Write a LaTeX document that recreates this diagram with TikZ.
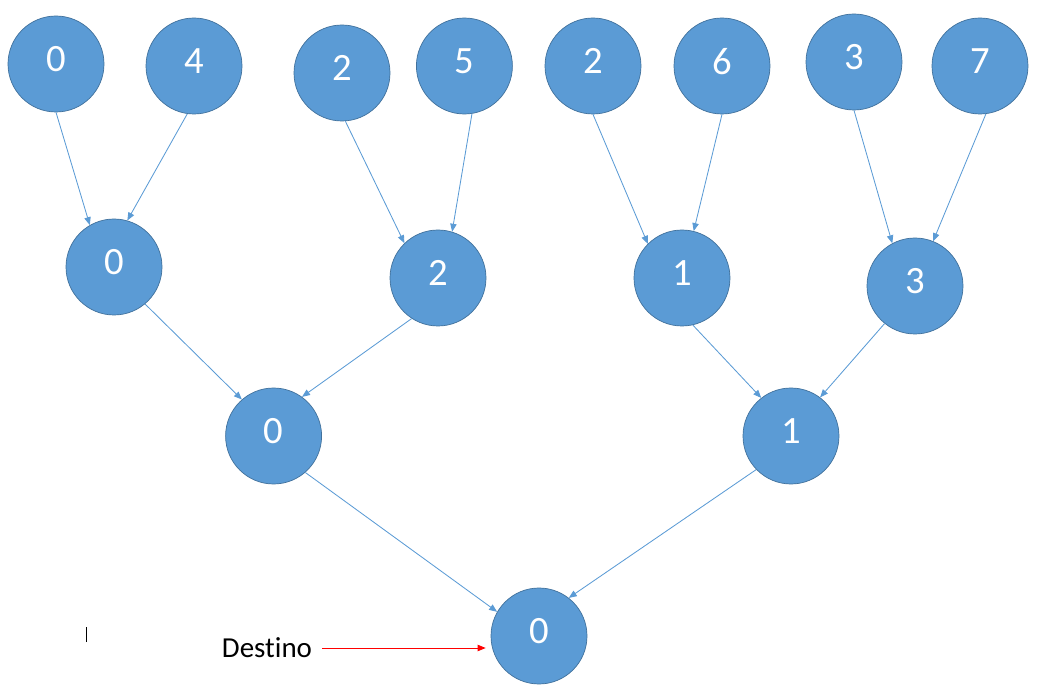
\documentclass[tikz,border=0pt]{standalone}
\usepackage{fontspec}
\setmainfont{Carlito}[Ligatures=NoCommon]
\usetikzlibrary{arrows.meta}

\definecolor{nodeblue}{HTML}{5B9BD5}
\definecolor{nodeedge}{HTML}{41719C}

\begin{document}
\begin{tikzpicture}[
		vertex/.style={circle, fill=nodeblue, draw=nodeedge, line width=0.5pt, minimum size=2.4cm, inner sep=0pt, text=white, font=\fontsize{27.5}{32}\selectfont, text depth=0.25cm},
		edge/.style={nodeblue, line width=0.6pt, -{Triangle[length=0.2cm, width=0.16cm]}},
		pointer/.style={red, line width=0.6pt, -{Triangle[length=0.2cm, width=0.16cm]}, shorten <=0.25cm, shorten >=0.125cm}
	]
	\path[use as bounding box] (0,0) rectangle (26.025,17.425);
	
	% Top row
	\node[vertex] (t0) at (1.40, 15.825) {0};
	\node[vertex] (t1) at (4.85, 15.775) {4};
	\node[vertex] (t2) at (8.55, 15.60) {2};
	\node[vertex] (t3) at (11.61, 15.775) {5};
	\node[vertex] (t4) at (14.825, 15.775) {2};
	\node[vertex] (t5) at (18.05, 15.775) {6};
	\node[vertex] (t6) at (21.35, 15.875) {3};
	\node[vertex] (t7) at (24.50, 15.775) {7};
	
	% Second row
	\node[vertex] (m0) at (2.85, 10.75) {0};
	\node[vertex] (m1) at (10.95, 10.475) {2};
	\node[vertex] (m2) at (17.05, 10.475) {1};
	\node[vertex] (m3) at (22.875, 10.275) {3};
	
	% Third row
	\node[vertex] (l0) at (6.84, 6.525) {0};
	\node[vertex] (l1) at (19.775, 6.525) {1};
	
	% Destination
	\node[vertex] (root) at (13.475, 1.525) {0};
	
	% Edges, top to second row
	\draw[edge] (t0.-90) -- (m0.120);
	\draw[edge] (t1.-98) -- (m0.74);
	\draw[edge] (t2.-86) -- (m1.134);
	\draw[edge] (t3.-81) -- (m1.73);
	\draw[edge] (t4.-90) -- (m2.135);
	\draw[edge] (t5.-90) -- (m2.76);
	\draw[edge] (t6.-90) -- (m3.118);
	\draw[edge] (t7.-83) -- (m3.68);
	
	% Edges, second to third row
	\draw[edge] (m0.-50) -- (l0.131);
	\draw[edge] (m1.-123) -- (l0.54);
	\draw[edge] (m2.-77) -- (l1.128);
	\draw[edge] (m3.-129) -- (l1.53);
	
	% Edges, third row to destination
	\draw[edge] (l0.-49) -- (root.150);
	\draw[edge] (l1.-136) -- (root.52);
	
	% Label
	\node[inner sep=0pt, font=\fontsize{20.6}{24}\selectfont] (lbl) at (6.675, 1.225) {Destino};
	\draw[pointer] (lbl) -- (lbl -| root.west);
	
	% Cursor mark
	\draw[line width=0.5pt] (2.15, 1.375) -- (2.15, 1.75);
\end{tikzpicture}
\end{document}
